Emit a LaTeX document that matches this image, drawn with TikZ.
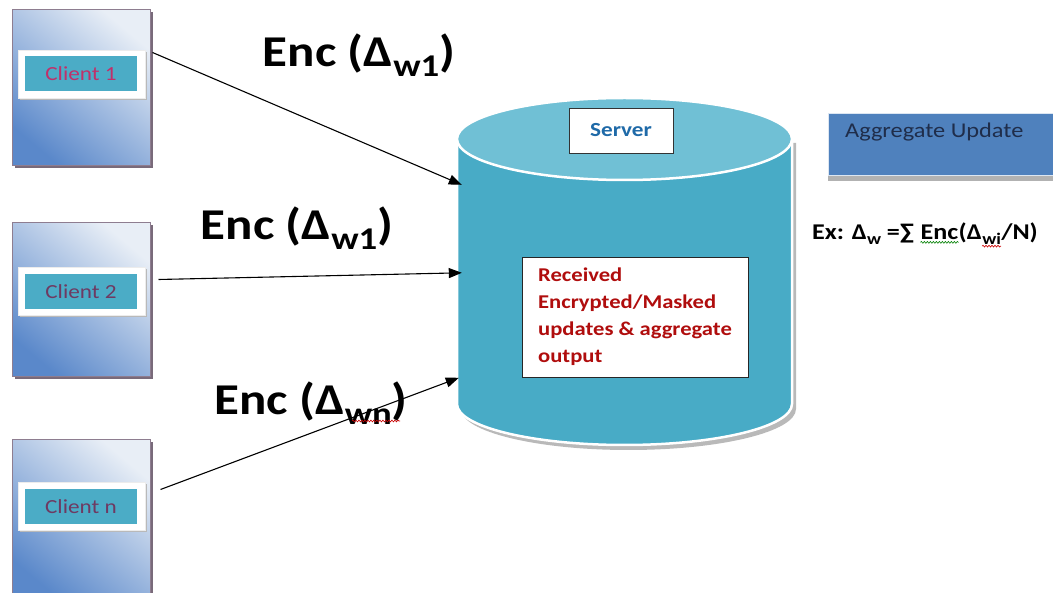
\documentclass[tikz,border=0pt]{standalone}
\usepackage{fontspec}
\setmainfont{Carlito}
\usetikzlibrary{shadows,arrows.meta,decorations.pathmorphing}
\newcommand{\hs}[1]{\scalebox{1.16}[1]{#1}}
\newcommand{\lowsub}[1]{\raisebox{-0.22em}{\scalebox{0.72}{#1}}}
\definecolor{teal1}{HTML}{4BACC6}
\definecolor{cyltop}{HTML}{70C0D5}
\definecolor{cylbody}{HTML}{48ABC6}
\definecolor{mauve}{HTML}{8E7D90}
\definecolor{cdark}{HTML}{5A88CA}
\definecolor{clight}{HTML}{E8EEF6}
\definecolor{aggblue}{HTML}{4F81BD}
\definecolor{aggtext}{HTML}{1F2D4A}
\definecolor{srvtext}{HTML}{1F6AA8}
\definecolor{rcvtext}{HTML}{B00D0D}
\definecolor{cAtext}{HTML}{C0306A}
\definecolor{cBtext}{HTML}{6E3A62}
\begin{document}
\begin{tikzpicture}[x=1pt,y=-1pt,
  clientbox/.style={draw=mauve, line width=1pt, minimum width=138pt, inner sep=0pt,
    top color=clight, bottom color=cdark, shading angle=-40,
    drop shadow={shadow xshift=3pt, shadow yshift=-2pt, fill=mauve!85!black, opacity=1}},
  framebox/.style={fill=white, draw=white!85!gray, line width=0.6pt, minimum width=127pt, minimum height=48pt, inner sep=0pt,
    drop shadow={shadow xshift=2pt, shadow yshift=-2pt, fill=gray!55, opacity=1}},
  tealbox/.style={fill=teal1, minimum width=112pt, minimum height=35pt, inner sep=0pt,
    font=\fontsize{20}{24}\selectfont},
  arr/.style={-{Triangle[length=13pt,width=10pt]}, line width=1.1pt, black},
  enclbl/.style={font=\bfseries\fontsize{44}{50}\selectfont, inner sep=0pt},
  expart/.style={anchor=base west, inner sep=0pt, font=\bfseries\fontsize{22.5}{27}\selectfont},
  wavy/.style={decorate, decoration={snake, amplitude=0.9pt, segment length=3pt}, line width=0.6pt}
]
\path[use as bounding box, fill=white] (0,0) rectangle (1053,593);

% clients
\node[clientbox, minimum height=156pt] (c1) at (81,88) {};
\node[framebox] (f1) at (81.5,74) {};
\node[tealbox, text=cAtext] (t1) at (81,73.5) {\hs{Client 1}};

\node[clientbox, minimum height=154pt] (c2) at (81,300) {};
\node[framebox] (f2) at (81.5,291.5) {};
\node[tealbox, text=cBtext] (t2) at (81,292) {\hs{Client 2}};

\node[clientbox, minimum height=160pt] (cn) at (81,520) {};
\node[framebox] (fn) at (81.5,506.5) {};
\node[tealbox, text=cBtext] (tn) at (81,507) {\hs{Client n}};

% cylinder
\fill[gray!55] (461,143) -- (461,409) arc[start angle=180,end angle=360,x radius=167.5pt,y radius=41pt] -- (796,143) -- cycle;
\path[fill=cylbody, draw=white, line width=2.5pt] (457,139) -- (457,404) arc[start angle=180,end angle=360,x radius=167.5pt,y radius=41pt] -- (792,139);
\path[fill=cyltop, draw=white, line width=2.5pt] (624.5,139) ellipse [x radius=167.5pt, y radius=41pt];
\node[minimum width=335pt, minimum height=347pt, inner sep=0pt] (srv) at (624.5,271.5) {};

\node[draw=black!80, fill=white, line width=0.8pt, minimum width=104pt, minimum height=45pt, inner sep=0pt,
  font=\bfseries\fontsize{20}{24}\selectfont, text=srvtext] (srvlbl) at (621,130.5) {\hs{Server}};

\node[draw=black!85, fill=white, line width=0.8pt, minimum width=226pt, minimum height=120pt, inner sep=0pt,
  align=left, text=rcvtext, font=\bfseries\fontsize{19.5}{27}\selectfont] (rcv) at (635,317)
  {\hs{Received}\\\hs{Encrypted/Masked}\\\hs{updates \& aggregate}\\\hs{output}};

% aggregate
\node[fill=aggblue, draw=white!80!aggblue, line width=0.8pt, minimum width=240pt, minimum height=62pt, anchor=north west, inner sep=0pt,
  drop shadow={shadow xshift=0pt, shadow yshift=-6pt, fill=gray!60, opacity=1}] (agg) at (828,113) {};
\node[anchor=west, inner sep=0pt, text=aggtext, font=\fontsize{21}{25}\selectfont] (aggtxt) at (845,132) {\hs{Aggregate Update}};

% formula
\node[expart] (exa) at (812,240) {\hs{Ex: Δ\lowsub{w} =∑\ }};
\node[expart] (exb) at (exa.base east) {\hs{Enc}};
\node[expart] (exc) at (exb.base east) {\hs{(Δ}};
\node[expart] (exd) at (exc.base east) {\hs{\lowsub{wi}}};
\node[expart] (exe) at (exd.base east) {\hs{/N)}};
\draw[wavy, green!50!black] ([yshift=-2pt]exb.south west) -- ([yshift=-2pt]exb.south east);
\draw[wavy, red!80!black] ([yshift=-1pt]exd.south west) -- ([yshift=-1pt]exd.south east);

% labels
\node[enclbl] (l1) at (359,55) {\hs{Enc (Δ\lowsub{w1})}};
\node[enclbl] (l2) at (297,228) {\hs{Enc (Δ\lowsub{w1})}};
\node[enclbl] (l3) at (311,403) {\hs{Enc (Δ\lowsub{wn})}};
\draw[wavy, red!80!black] (352,421) -- (400,421);

% arrows
\draw[arr] ([xshift=2pt,yshift=-43pt]c1.north east) -- ([xshift=5pt,yshift=-87pt]srv.north west);
\draw[arr] ([xshift=8pt,yshift=-57pt]c2.north east) -- ([xshift=5pt,yshift=-175pt]srv.north west);
\draw[arr] ([xshift=10pt,yshift=-50pt]cn.north east) -- ([xshift=2pt,yshift=-280pt]srv.north west);
\end{tikzpicture}
\end{document}
